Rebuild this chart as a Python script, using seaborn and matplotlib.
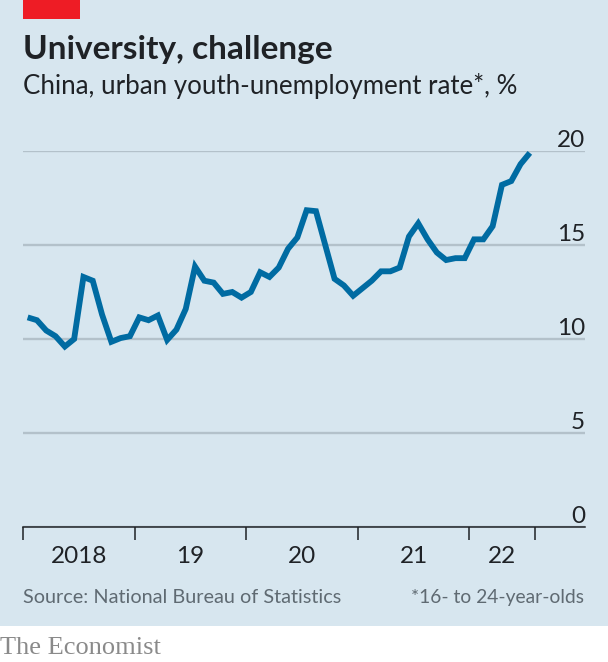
import matplotlib
matplotlib.use('Agg')
import matplotlib.pyplot as plt
import pandas as pd
import seaborn as sns
from matplotlib.patches import Rectangle

# monthly, Jan 2018 to Jul 2022
rate = [11.15, 11.0, 10.45, 10.15, 9.6, 10.0, 13.3, 13.1, 11.3, 9.85, 10.05, 10.15,
        11.15, 11.0, 11.25, 9.95, 10.5, 11.6, 13.85, 13.1, 13.0, 12.4, 12.5, 12.2,
        12.5, 13.55, 13.3, 13.8, 14.8, 15.4, 16.85, 16.8, 15.0, 13.2, 12.85, 12.3,
        12.7, 13.1, 13.6, 13.6, 13.8, 15.45, 16.15, 15.3, 14.6, 14.2, 14.3, 14.3,
        15.3, 15.3, 16.0, 18.2, 18.4, 19.3, 19.9]
months = [i + 0.5 for i in range(len(rate))]
y_ticks = [0, 5, 10, 15, 20]
year_edges = [0, 12, 24, 36, 48, 55]
year_centres = [6, 18, 30, 42, 51.5]
year_labels = ['2018', '19', '20', '21', '22']

W, H = 608, 662
BG = '#d7e6ef'
INK = '#1f2226'
GREY = '#5f6a72'
FONT = 'Lato'

sns.set_theme(style='white')
plt.rcParams['font.family'] = [FONT, 'DejaVu Sans']

df = pd.DataFrame({'month': months, 'rate': rate})

fig = plt.figure(figsize=(W / 100, H / 100), dpi=100, facecolor='white')
fig.add_artist(Rectangle((0, 36 / H), 1, 1 - 36 / H, transform=fig.transFigure, color=BG, lw=0, zorder=-2))
fig.add_artist(Rectangle((23 / W, 1 - 19 / H), 57 / W, 19 / H, transform=fig.transFigure, color='#ee1c25', lw=0))

ax = fig.add_axes([23 / W, 1 - 527 / H, (585 - 23) / W, (527 - 151) / H])
ax.patch.set_alpha(0)
ax.set_ylim(0, 20)
ax.set_xlim(0, (585 - 23) / 9.3)
ax.set_yticks(y_ticks)
ax.set_yticklabels([])
ax.grid(axis='y', color='#b3c1ca', lw=1.7)
ax.set_axisbelow(True)

sns.lineplot(data=df, x='month', y='rate', ax=ax, color='#006ba2', lw=4.2,
             solid_joinstyle='miter', solid_capstyle='butt', clip_on=False, zorder=3)
ax.set_xlabel('')
ax.set_ylabel('')

sns.despine(ax=ax, left=True, right=True, top=True)
ax.spines['bottom'].set_color(INK)
ax.spines['bottom'].set_linewidth(1.1)
ax.spines['bottom'].set_zorder(4)

ax.set_xticks(year_edges)
ax.set_xticklabels([])
ax.set_xticks(year_centres, labels=year_labels, minor=True)
ax.tick_params(axis='x', which='major', direction='out', length=9, width=1.1, color=INK, bottom=True)
ax.tick_params(axis='x', which='minor', length=0, pad=14, labelsize=17.5, labelcolor=INK)
ax.tick_params(axis='y', length=0)

for v in y_ticks:
    ax.text(1, v, str(v), transform=ax.get_yaxis_transform(), ha='right', va='bottom',
            fontsize=17.5, color=INK)


def label(x, y, s, **kw):
    fig.text(x / W, 1 - y / H, s, **kw)


label(23, 59, 'University, challenge', fontsize=24, fontweight='bold', color=INK)
label(23, 94, 'China, urban youth-unemployment rate*, %', fontsize=18.6, color=INK)
label(23, 603, 'Source: National Bureau of Statistics', fontsize=14.3, color=GREY)
label(584, 603, '*16- to 24-year-olds', fontsize=13.9, color=GREY, ha='right')
label(0, 654, 'The Economist', fontsize=19, color='#8a8a8a', family='Liberation Serif')

fig.savefig('out.png', dpi=100, facecolor=fig.get_facecolor())
